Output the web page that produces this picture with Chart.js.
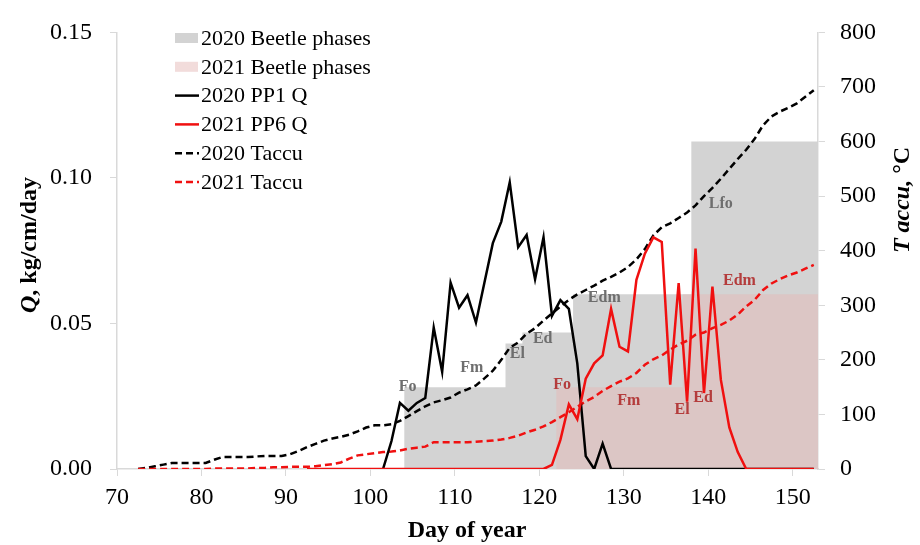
<!DOCTYPE html>
<html>
<head>
<meta charset="utf-8">
<style>
  body { margin: 0; background: #fff; }
  canvas { display: block; }
</style>
<script src="https://cdn.jsdelivr.net/npm/chart.js@4.4.1/dist/chart.umd.min.js"></script>
</head>
<body>
<canvas id="chart" width="920" height="545"></canvas>
<script>
// --- data ---
// points sit in the middle of each day (Excel line chart style)
const taccuStart = 72.5;
const taccu2020 = [0, 2, 5, 8, 11, 11, 11, 11, 11, 17, 22, 22, 22, 22, 23, 24, 24, 24, 27, 33,
  40, 46, 52, 56, 59, 63, 69, 76, 80, 80, 82, 88, 97, 106, 115, 122, 126, 131, 140, 146,
  153, 166, 180, 200, 222, 232, 248, 258, 272, 285, 298, 310, 320, 328, 336, 345, 352, 360, 370, 384,
  403, 428, 443, 450, 460, 470, 483, 500, 515, 532, 550, 568, 585, 605, 630, 646, 655, 662, 670, 682, 694];
const taccu2021 = [0, 0, 0, 0, 0, 0, 0, 0, 0, 1, 1, 1, 1, 1, 2, 2, 3, 3, 4, 4,
  4, 5, 7, 9, 12, 19, 25, 27, 29, 31, 32, 34, 37, 39, 41, 49, 49, 49, 49, 49,
  50, 51, 52, 54, 57, 61, 67, 72, 78, 86, 95, 104, 114, 124, 132, 143, 152, 160, 166, 176,
  191, 201, 208, 219, 228, 235, 246, 250, 258, 264, 272, 283, 298, 310, 328, 340, 348, 355, 360, 367, 374];

const q2020Start = 101.5;
const q2020 = [0, 0.0096, 0.0227, 0.0200, 0.0227, 0.0244, 0.0486, 0.0334, 0.0640, 0.0554,
  0.0597, 0.0503, 0.0640, 0.0776, 0.0850, 0.0985, 0.0762, 0.0804, 0.0652, 0.0796,
  0.0526, 0.0580, 0.0550, 0.0363, 0.0044, 0, 0.0087, 0,
  0, 0, 0, 0, 0, 0, 0, 0, 0, 0, 0, 0, 0, 0, 0, 0, 0, 0, 0, 0, 0, 0, 0, 0];

const q2021Start = 92.5;
const q2021 = [0, 0, 0, 0, 0, 0, 0, 0, 0, 0, 0, 0, 0, 0, 0, 0, 0, 0, 0, 0,
  0, 0, 0, 0, 0, 0, 0, 0, 0,
  0.0014, 0.0100, 0.0222, 0.0171, 0.0310, 0.0363, 0.0390, 0.0550, 0.0420, 0.0404,
  0.0650, 0.0740, 0.0796, 0.0780, 0.0290, 0.0639, 0.0231, 0.0757, 0.0261, 0.0627,
  0.0306, 0.0143, 0.0058, 0, 0, 0, 0, 0, 0, 0, 0, 0];

// beetle phase blocks (right axis), start day and height
const phaseEnd = 153;
const phase2020Start = [104, 116, 118, 124, 138];
const phase2020Height = [150, 230, 250, 320, 600];
const phase2021Start = [122, 137];
const phase2021Height = [150, 320];

// phase labels: text, day, T accu
const labels2020 = ['Fo', 'Fm', 'El', 'Ed', 'Edm', 'Lfo'];
const labels2020Day = [104.4, 112, 117.4, 120.4, 127.7, 141.5];
const labels2020T = [150, 186, 211, 238, 313, 486];
const labels2021 = ['Fo', 'Fm', 'El', 'Ed', 'Edm'];
const labels2021Day = [122.7, 130.6, 136.9, 139.4, 143.7];
const labels2021T = [154, 124, 108, 130, 344];

const xTicks = [70, 80, 90, 100, 110, 120, 130, 140, 150];

const SERIF = "'Liberation Serif', 'Times New Roman', serif";
const GRAY = '#d3d3d3';
const PINK = 'rgba(229,185,183,0.5)';
const RED = '#f01010';
const AXIS = '#d9d9d9';

function toPoints(start, values) {
  return values.map((v, i) => ({ x: start + i, y: v }));
}

function toSteps(starts, heights) {
  const pts = starts.map((s, i) => ({ x: s, y: heights[i] }));
  pts.push({ x: phaseEnd, y: heights[heights.length - 1] });
  return pts;
}

// legend drawn inside the plot, top-left, one entry per row
const insideLegend = {
  id: 'insideLegend',
  afterDatasetsDraw(chart) {
    const ctx = chart.ctx;
    ctx.save();
    ctx.font = '22px ' + SERIF;
    ctx.textBaseline = 'middle';
    chart.data.datasets.forEach((ds, i) => {
      const y = 38 + i * 28.8;
      if (ds.fill) {
        ctx.fillStyle = ds.backgroundColor;
        ctx.fillRect(175, y - 5, 23, 10);
      } else {
        ctx.strokeStyle = ds.borderColor;
        ctx.lineWidth = 2.5;
        ctx.setLineDash(ds.borderDash || []);
        ctx.beginPath();
        ctx.moveTo(175, y);
        ctx.lineTo(199, y);
        ctx.stroke();
        ctx.setLineDash([]);
      }
      ctx.fillStyle = '#000';
      ctx.fillText(ds.label, 201, y + 1);
    });
    ctx.restore();
  }
};

// phase labels and mixed-style axis titles
const annotations = {
  id: 'annotations',
  afterDatasetsDraw(chart) {
    const ctx = chart.ctx;
    const xs = chart.scales.x, ys = chart.scales.y1;
    ctx.save();
    ctx.font = 'bold 16px ' + SERIF;
    ctx.textAlign = 'center';
    ctx.textBaseline = 'middle';
    ctx.fillStyle = '#6e6e6e';
    labels2020.forEach((t, i) => {
      ctx.fillText(t, xs.getPixelForValue(labels2020Day[i]), ys.getPixelForValue(labels2020T[i]));
    });
    ctx.fillStyle = '#b43c3c';
    labels2021.forEach((t, i) => {
      ctx.fillText(t, xs.getPixelForValue(labels2021Day[i]), ys.getPixelForValue(labels2021T[i]));
    });
    ctx.restore();

    drawTitle(ctx, [['bold italic', 'Q'], ['bold', ', kg/cm/day']], 30, 245, -Math.PI / 2);
    drawTitle(ctx, [['bold italic', 'T accu,'], ['bold', ' °C']], 903, 200, -Math.PI / 2);
    drawTitle(ctx, [['bold', 'Day of year']], 467, 531, 0);
  }
};

function drawTitle(ctx, parts, x, y, rot) {
  ctx.save();
  ctx.translate(x, y);
  ctx.rotate(rot);
  ctx.textBaseline = 'middle';
  ctx.fillStyle = '#000';
  let total = 0;
  parts.forEach(p => { ctx.font = p[0] + ' 24px ' + SERIF; total += ctx.measureText(p[1]).width; });
  let cx = -total / 2;
  parts.forEach(p => {
    ctx.font = p[0] + ' 24px ' + SERIF;
    ctx.fillText(p[1], cx, 0);
    cx += ctx.measureText(p[1]).width;
  });
  ctx.restore();
}

new Chart(document.getElementById('chart'), {
  type: 'line',
  data: {
    datasets: [
      {
        label: '2020 Beetle phases', data: toSteps(phase2020Start, phase2020Height), yAxisID: 'y1',
        stepped: true, fill: 'origin', backgroundColor: GRAY, borderWidth: 0, pointRadius: 0, order: 10
      },
      {
        label: '2021 Beetle phases', data: toSteps(phase2021Start, phase2021Height), yAxisID: 'y1',
        stepped: true, fill: 'origin', backgroundColor: PINK, borderWidth: 0, pointRadius: 0, order: 9
      },
      {
        label: '2020 PP1 Q', data: toPoints(q2020Start, q2020), yAxisID: 'y',
        borderColor: '#000', borderWidth: 2.5, pointRadius: 0, fill: false, order: 6
      },
      {
        label: '2021 PP6 Q', data: toPoints(q2021Start, q2021), yAxisID: 'y',
        borderColor: RED, borderWidth: 2.5, pointRadius: 0, fill: false, order: 5
      },
      {
        label: '2020 Taccu', data: toPoints(taccuStart, taccu2020), yAxisID: 'y1',
        borderColor: '#000', borderWidth: 2.5, borderDash: [7, 4], pointRadius: 0, fill: false, order: 8
      },
      {
        label: '2021 Taccu', data: toPoints(taccuStart, taccu2021), yAxisID: 'y1',
        borderColor: RED, borderWidth: 2.5, borderDash: [7, 4], pointRadius: 0, fill: false, order: 7
      }
    ]
  },
  options: {
    responsive: false,
    animation: false,
    layout: { padding: { top: 25, left: 0, right: 0, bottom: 0 } },
    plugins: { legend: { display: false }, tooltip: { enabled: false } },
    elements: { line: { tension: 0 } },
    scales: {
      x: {
        type: 'linear', min: 70, max: 153,
        afterBuildTicks: s => { s.ticks = xTicks.map(v => ({ value: v })); },
        afterFit: s => { s.height = 76; },
        ticks: { font: { family: SERIF, size: 24 }, color: '#000', padding: 7, maxRotation: 0 },
        grid: { drawOnChartArea: false, drawTicks: true, tickLength: 7, tickColor: AXIS },
        border: { color: AXIS, width: 1.5 }
      },
      y: {
        position: 'left', min: 0, max: 0.15,
        afterFit: s => { s.width = 117; },
        ticks: { stepSize: 0.05, callback: v => v.toFixed(2), font: { family: SERIF, size: 24 }, color: '#000', padding: 18 },
        grid: { drawOnChartArea: false, drawTicks: true, tickLength: 7, tickColor: AXIS },
        border: { color: AXIS, width: 1.5 }
      },
      y1: {
        position: 'right', min: 0, max: 800,
        afterFit: s => { s.width = 102; },
        ticks: { stepSize: 100, font: { family: SERIF, size: 24 }, color: '#000', padding: 15 },
        grid: { drawOnChartArea: false, drawTicks: true, tickLength: 7, tickColor: AXIS },
        border: { color: AXIS, width: 1.5 }
      }
    }
  },
  plugins: [insideLegend, annotations]
});
</script>
</body>
</html>
